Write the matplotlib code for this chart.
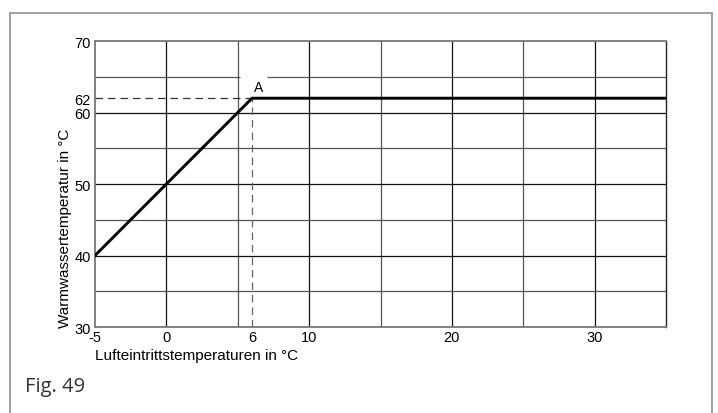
import matplotlib.pyplot as plt
from matplotlib.patches import Rectangle

# curve: air inlet temp -> max hot water temp
air_temp = [-5, 6, 35]
water_temp = [40, 62, 62]
point_a = (6, 62)

x_ticks = [-5, 0, 6, 10, 20, 30]
y_ticks = [30, 40, 50, 60, 62, 70]
x_major = [0, 10, 20, 30]
x_minor = [5, 15, 25]
y_major = [40, 50, 60]
y_minor = [35, 45, 55]
label_gap = (5.15, 7.05)  # the 65 grid line is cut where "A" sits

font = ['Liberation Sans', 'DejaVu Sans']


def main():
    fig = plt.figure(figsize=(7.18, 4.14), dpi=100)
    ax = fig.add_axes([0.1323, 0.2077, 0.7953, 0.6908])
    ax.set_xlim(-5, 35)
    ax.set_ylim(30, 70)

    for x in x_major:
        ax.axvline(x, color='#111111', lw=0.9, zorder=1)
    for x in x_minor:
        ax.axvline(x, color='#555555', lw=0.9, zorder=1)
    for y in y_major:
        ax.axhline(y, color='#111111', lw=0.9, zorder=1)
    for y in y_minor:
        ax.axhline(y, color='#555555', lw=0.9, zorder=1)
    ax.hlines(65, -5, label_gap[0], color='#555555', lw=0.9, zorder=1)
    ax.hlines(65, label_gap[1], 35, color='#555555', lw=0.9, zorder=1)

    # dashed guide to point A
    ax.plot([-5, point_a[0]], [point_a[1], point_a[1]], color='#333333',
            lw=0.9, dashes=(6, 4), zorder=2)
    ax.plot([point_a[0], point_a[0]], [30, point_a[1]], color='#666666',
            lw=0.9, dashes=(6, 4), zorder=2)

    ax.plot(air_temp, water_temp, color='black', lw=2.1,
            solid_joinstyle='miter', zorder=3)

    ax.text(6.45, 63.6, 'A', ha='center', va='center', fontsize=10,
            family=font, zorder=4)

    ax.set_xticks(x_ticks)
    ax.set_xticklabels([str(v) for v in x_ticks])
    ax.set_yticks(y_ticks)
    ax.set_yticklabels([str(v) for v in y_ticks])
    ax.tick_params(length=0, labelsize=10.5, pad=2)
    ax.tick_params(axis='y', pad=3)
    for lab in ax.get_xticklabels() + ax.get_yticklabels():
        lab.set_family(font)

    for side in ['left', 'bottom', 'top']:
        ax.spines[side].set_color('#777777')
        ax.spines[side].set_linewidth(1.3)
    ax.spines['right'].set_color('#222222')
    ax.spines['right'].set_linewidth(1.0)

    ax.set_xlabel('Lufteintrittstemperaturen in °C', loc='left',
                  fontsize=11, family=font, labelpad=3)
    ax.set_ylabel('Warmwassertemperatur in °C', loc='bottom',
                  fontsize=11, family=font, labelpad=2)

    fig.text(25 / 718, 1 - 387 / 414, 'Fig. 49', fontsize=14.5,
             family=['Open Sans', 'DejaVu Sans'], color='#333333',
             ha='left', va='center')

    # outer frame of the figure box
    fig.patches.append(Rectangle((10 / 718, -0.1), 702 / 718, 1.1 - 14 / 414,
                                 transform=fig.transFigure, fill=False,
                                 edgecolor='#999999', lw=1.3))

    fig.savefig('out.png', dpi=100)


if __name__ == '__main__':
    main()
